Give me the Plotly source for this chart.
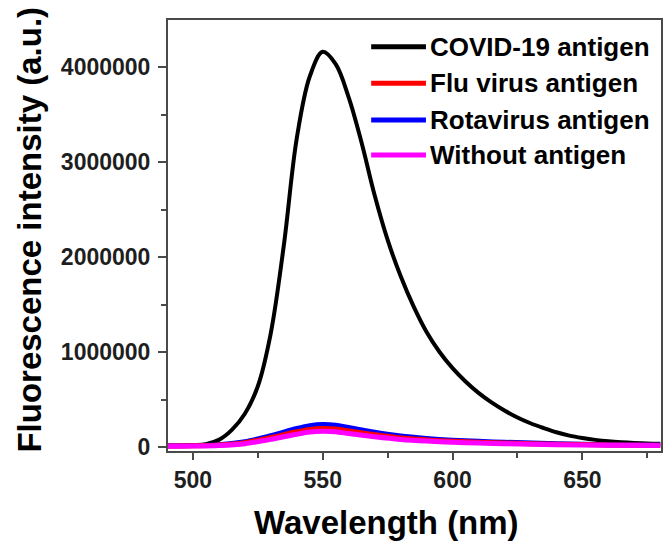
import plotly.graph_objects as go

# Emission spectra (wavelength in nm, intensity in a.u.)
covid_wl = [490, 495, 500, 505, 510, 515, 520, 525, 530, 535, 540, 545, 550, 555, 560,
            565, 570, 575, 580, 585, 590, 595, 600, 605, 610, 615, 620, 625, 630, 635,
            640, 645, 650, 655, 660, 665, 670, 675, 680]
covid_int = [10000, 14000, 20000, 30000, 75000, 180000, 350000, 640000, 1200000, 2120000,
             3250000, 3900000, 4160000, 4030000, 3680000, 3200000, 2650000, 2180000,
             1800000, 1480000, 1210000, 1000000, 830000, 690000, 570000, 470000, 385000,
             310000, 250000, 200000, 155000, 120000, 95000, 75000, 60000, 50000, 43000,
             38000, 35000]

ctrl_wl = [490, 500, 510, 520, 530, 540, 545, 550, 555, 560, 570, 580, 590, 600, 610,
           620, 640, 660, 680]
rota_int = [12000, 15000, 25000, 55000, 120000, 195000, 225000, 238000, 230000, 205000,
            155000, 115000, 90000, 72000, 60000, 50000, 35000, 25000, 20000]
flu_int = [10000, 12000, 20000, 45000, 100000, 160000, 185000, 195000, 190000, 170000,
           130000, 95000, 75000, 60000, 50000, 42000, 30000, 22000, 18000]
blank_int = [8000, 10000, 16000, 35000, 80000, 135000, 158000, 165000, 160000, 142000,
             108000, 80000, 62000, 50000, 42000, 35000, 25000, 18000, 15000]

series_names = ["COVID-19 antigen", "Flu virus antigen", "Rotavirus antigen", "Without antigen"]
series_colors = ["#000000", "#ff0000", "#0000ff", "#ff00ff"]

x_ticks = [500, 550, 600, 650]
y_ticks = [0, 1000000, 2000000, 3000000, 4000000]

FONT = "Liberation Sans, Arial, sans-serif"

fig = go.Figure()
# drawing order: black first, coloured controls on top
fig.add_trace(go.Scatter(x=covid_wl, y=covid_int, mode="lines",
                         line=dict(color=series_colors[0], width=4, shape="spline", smoothing=1.0),
                         name=series_names[0]))
fig.add_trace(go.Scatter(x=ctrl_wl, y=rota_int, mode="lines",
                         line=dict(color=series_colors[2], width=5, shape="spline", smoothing=0.8),
                         name=series_names[2]))
fig.add_trace(go.Scatter(x=ctrl_wl, y=flu_int, mode="lines",
                         line=dict(color=series_colors[1], width=5, shape="spline", smoothing=0.8),
                         name=series_names[1]))
fig.add_trace(go.Scatter(x=ctrl_wl, y=blank_int, mode="lines",
                         line=dict(color=series_colors[3], width=5, shape="spline", smoothing=0.8),
                         name=series_names[3]))

axis_common = dict(
    showgrid=False, zeroline=False, showline=True, linecolor="#4a4a4a", linewidth=2,
    mirror=True, ticks="outside", tickcolor="#4a4a4a", tickwidth=2,
    tickfont=dict(family=FONT, size=23, color="#1e1e1e", weight="bold"),
)

fig.update_xaxes(range=[490.4, 680.3], tickvals=x_ticks, ticklen=7,
                 minor=dict(dtick=25, tick0=500, ticks="outside", ticklen=5,
                            tickcolor="#4a4a4a", tickwidth=2),
                 **axis_common)
fig.update_yaxes(range=[-42000, 4495000], tickvals=y_ticks,
                 ticktext=[str(v) for v in y_ticks], ticklen=8,
                 minor=dict(dtick=500000, tick0=0, ticks="outside", ticklen=5,
                            tickcolor="#4a4a4a", tickwidth=2),
                 ticklabelstandoff=3,
                 **axis_common)

# plot area in pixels: x 168..663, y 20..451
PX0, PX1, PY0, PY1 = 168, 663, 20, 451


def px(x):
    return (x - PX0) / (PX1 - PX0)


def py(y):
    return (PY1 - y) / (PY1 - PY0)


# Legend: long line swatches with labels
legend_y = [46.7, 83.3, 120, 155]
shapes = []
annotations = []
for name, color, yy in zip(series_names, series_colors, legend_y):
    shapes.append(dict(type="line", xref="paper", yref="paper",
                       x0=px(372), x1=px(427), y0=py(yy), y1=py(yy),
                       line=dict(color=color, width=5)))
    annotations.append(dict(text=name, xref="paper", yref="paper",
                            x=px(429), y=py(yy), xanchor="left", yanchor="middle",
                            showarrow=False,
                            font=dict(family=FONT, size=26, color="#000000", weight="bold")))

# Axis titles
annotations.append(dict(text="Wavelength (nm)", xref="paper", yref="paper",
                        x=px(387), y=py(522), xanchor="center", yanchor="middle",
                        showarrow=False,
                        font=dict(family=FONT, size=33, color="#000000", weight="bold")))
annotations.append(dict(text="Fluorescence intensity (a.u.)", xref="paper", yref="paper",
                        x=px(28), y=py(230), xanchor="center", yanchor="middle",
                        textangle=-90, showarrow=False,
                        font=dict(family=FONT, size=33, color="#000000", weight="bold")))

fig.update_layout(
    width=665, height=543,
    margin=dict(l=168, r=2, t=20, b=92),
    paper_bgcolor="white", plot_bgcolor="white",
    showlegend=False,
    shapes=shapes, annotations=annotations,
)

fig.write_html("out.html")
